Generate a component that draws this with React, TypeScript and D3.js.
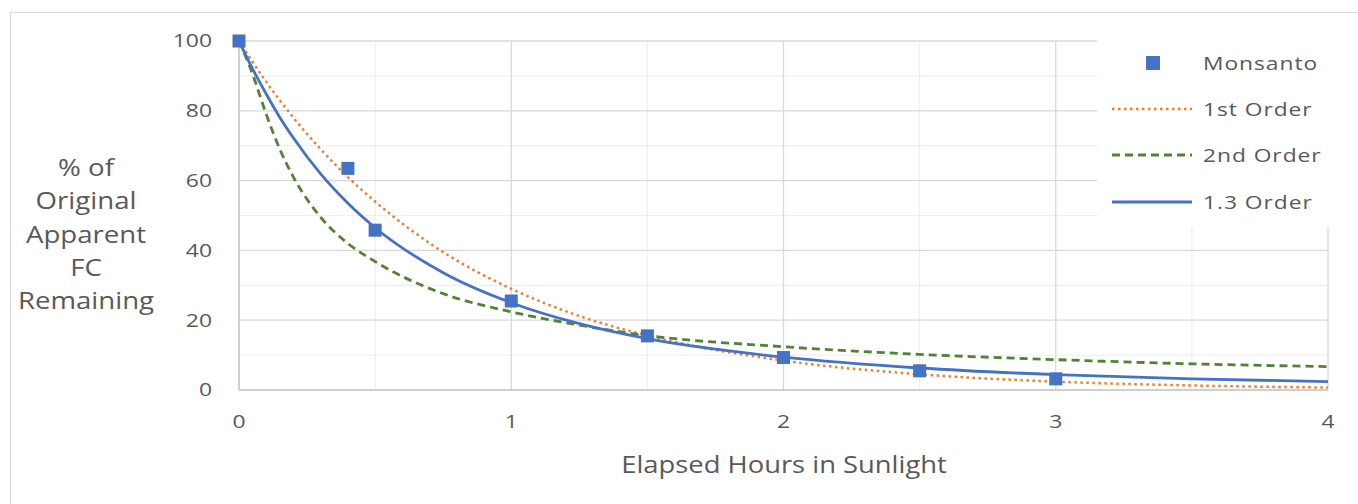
import React from "react";
import * as d3 from "d3";

const hours = [0, 0.05, 0.1, 0.15, 0.2, 0.3, 0.4, 0.5, 0.75, 1, 1.25, 1.5, 2, 2.5, 3, 3.5, 4];
const firstOrder = [100, 94, 88.3, 83, 78, 69, 61, 54, 39.5, 29, 21.2, 15.6, 8.4, 4.5, 2.4, 1.3, 0.7];
const secondOrder = [100, 90.5, 79, 69, 61, 49.5, 42, 36.8, 27.6, 22.4, 18.6, 15.6, 12.4, 10.2, 8.7, 7.5, 6.7];
const thirteenOrder = [100, 92, 84.8, 78.1, 72.2, 61.9, 53.5, 46.5, 33.6, 25, 19, 14.7, 9.4, 6.3, 4.4, 3.2, 2.4];

const monsantoHours = [0, 0.4, 0.5, 1, 1.5, 2, 2.5, 3];
const monsantoValues = [100, 63.5, 45.8, 25.5, 15.5, 9.3, 5.5, 3.2];

const xTicks = [0, 1, 2, 3, 4];
const xMinor = [0.5, 1.5, 2.5, 3.5];
const yTicks = [0, 20, 40, 60, 80, 100];
const yMinor = [10, 30, 50, 70, 90];

const yTitleLines = ["% of", "Original", "Apparent", "FC", "Remaining"];
const xTitle = "Elapsed Hours in Sunlight";

const legendItems = [
  { label: "Monsanto", kind: "marker" },
  { label: "1st Order", kind: "first" },
  { label: "2nd Order", kind: "second" },
  { label: "1.3 Order", kind: "thirteen" },
];

const BLUE = "#4472C4";
const ORANGE = "#ED7D31";
const GREEN = "#548235";
const TEXT = "#595959";
const FONT = "'Open Sans', sans-serif";

function SText(props: {
  x: number;
  y: number;
  sx: number;
  size: number;
  anchor?: string;
  spacing?: number;
  children: React.ReactNode;
}) {
  return (
    <g transform={`translate(${props.x},${props.y}) scale(${props.sx},1)`}>
      <text
        x={0}
        y={0}
        dy="0.35em"
        textAnchor={props.anchor || "start"}
        fontSize={props.size}
        fill={TEXT}
        letterSpacing={props.spacing || 0}
      >
        {props.children}
      </text>
    </g>
  );
}

export default function App() {
  const x = d3.scaleLinear().domain([0, 4]).range([239, 1328]);
  const y = d3.scaleLinear().domain([0, 100]).range([390, 41]);

  const lineGen = (vals: number[]) =>
    d3
      .line<number>()
      .x((_, i) => x(hours[i]))
      .y((v) => y(v))
      .curve(d3.curveMonotoneX)(vals) || "";

  const legendTop = 30;
  const legendBottom = 227;
  const legendLeft = 1097;
  const legendRight = 1343;
  const legendRowY = [63, 109, 155, 202];

  const styles: Record<string, any> = {
    first: { stroke: ORANGE, strokeWidth: 2.5, strokeDasharray: "2.5 3.5" },
    second: { stroke: GREEN, strokeWidth: 2.8, strokeDasharray: "8 5" },
    thirteen: { stroke: BLUE, strokeWidth: 2.8 },
  };

  return (
    <svg
      width={1358}
      height={504}
      style={{ position: "absolute", left: 0, top: 0, background: "#fff" }}
      fontFamily={FONT}
    >
      <rect x={0} y={0} width={1358} height={504} fill="#fff" />
      <rect x={10.5} y={12.5} width={1360} height={520} fill="#fff" stroke="#d9d9d9" strokeWidth={1} />

      {/* minor gridlines */}
      {yMinor.map((v) => (
        <line key={"ym" + v} x1={x(0)} x2={x(4)} y1={y(v)} y2={y(v)} stroke="#efefef" strokeWidth={1.2} />
      ))}
      {xMinor.map((v) => (
        <line key={"xm" + v} x1={x(v)} x2={x(v)} y1={y(0)} y2={y(100)} stroke="#efefef" strokeWidth={1.2} />
      ))}
      {/* major gridlines */}
      {yTicks.filter((v) => v > 0).map((v) => (
        <line key={"yg" + v} x1={x(0)} x2={x(4)} y1={y(v)} y2={y(v)} stroke="#d9d9d9" strokeWidth={1.3} />
      ))}
      {xTicks.filter((v) => v > 0).map((v) => (
        <line key={"xg" + v} x1={x(v)} x2={x(v)} y1={y(0)} y2={y(100)} stroke="#d9d9d9" strokeWidth={1.3} />
      ))}

      {/* axes */}
      <line x1={x(0)} x2={x(0)} y1={y(0)} y2={y(100)} stroke="#bfbfbf" strokeWidth={1.5} />
      <line x1={x(0)} x2={x(4)} y1={y(0)} y2={y(0)} stroke="#bfbfbf" strokeWidth={1.5} />

      {/* legend background */}
      <rect x={legendLeft} y={legendTop} width={legendRight - legendLeft} height={legendBottom - legendTop} fill="#fff" />

      {/* tick labels */}
      {yTicks.map((v) => (
        <SText key={"yt" + v} x={212} y={y(v)} sx={1.24} size={18.5} anchor="end">
          {v}
        </SText>
      ))}
      {xTicks.map((v) => (
        <SText key={"xt" + v} x={x(v)} y={422} sx={1.24} size={18.5} anchor="middle">
          {v}
        </SText>
      ))}

      {/* axis titles */}
      {yTitleLines.map((t, i) => (
        <SText key={"ytl" + i} x={86} y={168 + i * 33.3} sx={1.2} size={23} anchor="middle">
          {t}
        </SText>
      ))}
      <SText x={784} y={465} sx={1.19} size={23} anchor="middle">
        {xTitle}
      </SText>

      {/* curves */}
      <path d={lineGen(firstOrder)} fill="none" {...styles.first} />
      <path d={lineGen(secondOrder)} fill="none" {...styles.second} />
      <path d={lineGen(thirteenOrder)} fill="none" {...styles.thirteen} />

      {/* markers */}
      {monsantoHours.map((h, i) => (
        <rect key={"m" + i} x={x(h) - 6.5} y={y(monsantoValues[i]) - 6.5} width={13} height={13} fill={BLUE} />
      ))}

      {/* legend */}
      {legendItems.map((it, i) => (
        <g key={"lg" + i}>
          {it.kind === "marker" ? (
            <rect x={1153 - 7} y={legendRowY[i] - 7} width={14} height={14} fill={BLUE} />
          ) : (
            <line x1={1112} x2={1192} y1={legendRowY[i]} y2={legendRowY[i]} {...styles[it.kind]} />
          )}
          <SText x={1203} y={legendRowY[i]} sx={1.2} size={19} spacing={0.8}>
            {it.label}
          </SText>
        </g>
      ))}
    </svg>
  );
}
